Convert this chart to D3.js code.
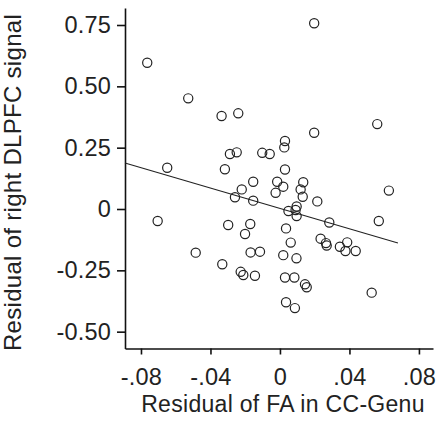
<!DOCTYPE html>
<html>
<head>
<meta charset="utf-8">
<script src="https://cdn.jsdelivr.net/npm/d3@7"></script>
<style>
  body { margin: 0; background: #fff; }
  text { font-family: Arial, "Liberation Sans", sans-serif; fill: #222; }
</style>
</head>
<body>
<div id="scatter"></div>
<script>
// residuals
let faResid = [
  -0.0764, -0.0528, -0.0336, -0.0240, -0.0288, -0.0249, -0.0102, -0.0059, -0.0649, -0.0317,
  0.0197, 0.0560, 0.0197, 0.0029, 0.0025, 0.0029, -0.0154, -0.0220, -0.0259, -0.0154,
  -0.0016, 0.0019, 0.0134, 0.0119, -0.0025, 0.0131, 0.0215, 0.0627, 0.0049, 0.0096,
  0.0090, 0.0096, 0.0284, 0.0569, 0.0035, -0.0704, -0.0298, -0.0171, -0.0201, 0.0062,
  0.0234, 0.0265, 0.0269, 0.0345, 0.0387, 0.0377, 0.0436, -0.0485, -0.0169, -0.0115,
  0.0019, 0.0095, -0.0332, -0.0226, -0.0211, -0.0144, 0.0029, 0.0083, 0.0144, 0.0154,
  0.0528, 0.0035, 0.0086
];
let dlpfcResid = [
  0.596, 0.451, 0.379, 0.390, 0.224, 0.231, 0.229, 0.224, 0.168, 0.162,
  0.757, 0.346, 0.311, 0.277, 0.251, 0.161, 0.111, 0.080, 0.048, 0.034,
  0.111, 0.091, 0.109, 0.080, 0.066, 0.050, 0.031, 0.075, -0.008, 0.010,
  -0.004, -0.029, -0.055, -0.049, -0.079, -0.049, -0.065, -0.061, -0.102, -0.137,
  -0.121, -0.139, -0.149, -0.154, -0.136, -0.171, -0.171, -0.178, -0.177, -0.174,
  -0.188, -0.201, -0.225, -0.256, -0.269, -0.272, -0.279, -0.279, -0.307, -0.319,
  -0.341, -0.380, -0.404
];
// fitted regression line end points
let fitX = [-0.0892, 0.0679];
let fitY = [0.1875, -0.1386];

let xTicks = [-0.08, -0.04, 0, 0.04, 0.08];
let yTicks = [-0.5, -0.25, 0, 0.25, 0.5, 0.75];

let svgWidth = 437;
let svgHeight = 423;

let margin = { top: 8, right: 4, bottom: 74.5, left: 125 };
let width = svgWidth - margin.left - margin.right;
let height = svgHeight - margin.top - margin.bottom;

let svg = d3.select("#scatter")
    .append("svg")
    .attr("width", svgWidth)
    .attr("height", svgHeight);

let chartGroup = svg.append("g")
    .attr("transform", `translate(${margin.left}, ${margin.top})`);

let points = faResid.map((x, i) => ({ x: x, y: dlpfcResid[i] }));

// scales
let xScale = d3.scaleLinear()
    .domain([-0.0892, 0.0881])
    .range([0, width]);

let yScale = d3.scaleLinear()
    .domain([-0.5686, 0.8193])
    .range([height, 0]);

// plain hyphen for negatives, like the original
let fmt2 = d3.format(".2f");
let xFmt = d => d === 0 ? "0" : fmt2(d).replace("\u2212", "-").replace("0.", ".");
let yFmt = d => d === 0 ? "0" : fmt2(d).replace("\u2212", "-");

// axes
let bottomAxis = d3.axisBottom(xScale)
    .tickValues(xTicks)
    .tickSize(6)
    .tickSizeOuter(0)
    .tickPadding(14)
    .tickFormat(xFmt);

let leftAxis = d3.axisLeft(yScale)
    .tickValues(yTicks)
    .tickSize(8)
    .tickSizeOuter(0)
    .tickPadding(6)
    .tickFormat(yFmt);

let xAxisG = chartGroup.append("g")
    .attr("transform", `translate(0, ${height})`)
    .call(bottomAxis);

let yAxisG = chartGroup.append("g")
    .call(leftAxis);

[xAxisG, yAxisG].forEach(g => {
    g.selectAll("path, line").attr("stroke", "#111").attr("stroke-width", 1.6);
    g.selectAll("text")
        .attr("font-size", "23.5px")
        .attr("letter-spacing", "0.2px")
        .attr("fill", "#222")
        .style("font-family", "Arial, 'Liberation Sans', sans-serif");
});

// regression line
chartGroup.append("line")
    .attr("x1", xScale(fitX[0]))
    .attr("y1", yScale(fitY[0]))
    .attr("x2", xScale(fitX[1]))
    .attr("y2", yScale(fitY[1]))
    .attr("stroke", "#222")
    .attr("stroke-width", 1.1);

// points
chartGroup.selectAll("circle")
    .data(points)
    .enter()
    .append("circle")
    .attr("cx", d => xScale(d.x))
    .attr("cy", d => yScale(d.y))
    .attr("r", 4.6)
    .attr("fill", "none")
    .attr("stroke", "#222")
    .attr("stroke-width", 1.2);

// axis titles
svg.append("text")
    .attr("transform", "translate(21, 182.5) rotate(-90)")
    .attr("text-anchor", "middle")
    .attr("font-size", "24px")
    .attr("letter-spacing", "0.3px")
    .text("Residual of right DLPFC signal");

svg.append("text")
    .attr("x", 283)
    .attr("y", 412)
    .attr("text-anchor", "middle")
    .attr("font-size", "23px")
    .attr("letter-spacing", "0.3px")
    .text("Residual of FA in CC-Genu");
</script>
</body>
</html>
